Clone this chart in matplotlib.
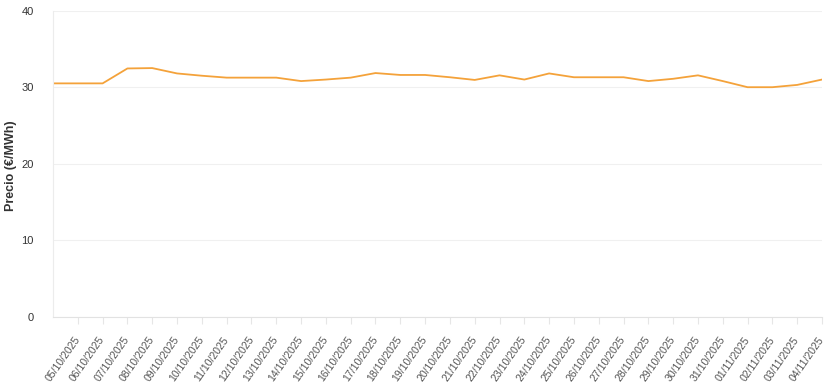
import matplotlib
matplotlib.use("Agg")
import matplotlib.pyplot as plt
import numpy as np

plt.rcParams["font.family"] = ["Liberation Sans", "DejaVu Sans"]

# fechas (la primera, 04/10, no lleva etiqueta en el original)
fechas = ["04/10/2025"] + [f"{d:02d}/10/2025" for d in range(5, 32)] + \
         [f"{d:02d}/11/2025" for d in range(1, 5)]
precios = [30.5, 30.5, 30.5, 32.45, 32.5, 31.8, 31.5, 31.25, 31.25, 31.25,
           30.8, 31.0, 31.25, 31.85, 31.6, 31.6, 31.3, 30.95, 31.55, 31.0,
           31.8, 31.3, 31.3, 31.3, 30.8, 31.1, 31.55, 30.8, 30.0, 30.0,
           30.3, 31.0]
y_ticks = [0, 10, 20, 30, 40]

fig = plt.figure(figsize=(8.26, 3.82), dpi=100)
ax = fig.add_axes([53 / 826, 1 - 316.7 / 382, 769 / 826, 306 / 382])

x = np.arange(len(fechas))
ax.plot(x, precios, color="#f4a23a", lw=1.3, solid_joinstyle="round")

ax.set_xlim(0, len(fechas) - 1)
ax.set_ylim(0, 40)
ax.set_yticks(y_ticks)
ax.set_yticklabels([str(v) for v in y_ticks], fontsize=8, color="#333333")
ax.tick_params(axis="y", length=0, pad=14)

ax.set_xticks(x[1:])
ax.set_xticklabels(fechas[1:], rotation=55, ha="right", va="center",
                   rotation_mode="anchor", fontsize=7.6, color="#555555")
ax.tick_params(axis="x", length=5, color="#e6e6e6", pad=10)

ax.grid(axis="y", color="#f0f0f0", lw=0.8)
for s in ["top", "right"]:
    ax.spines[s].set_visible(False)
ax.spines["left"].set_color("#ececec")
ax.spines["bottom"].set_color("#e2e2e2")
ax.set_axisbelow(True)

fig.text(11 / 826, 1 - 166 / 382, "Precio (€/MWh)", rotation=90,
         ha="center", va="center", fontsize=9, fontweight="bold",
         color="#333333")

fig.savefig("out.png", dpi=100)
